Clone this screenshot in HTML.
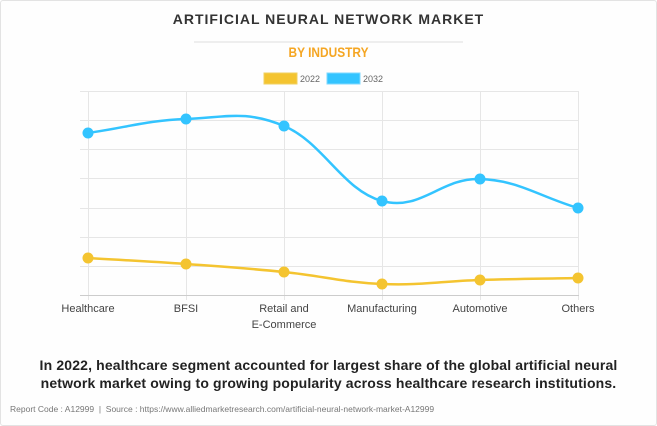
<!DOCTYPE html>
<html><head><meta charset="utf-8"><style>
html,body{margin:0;padding:0;background:#fff}
body{width:657px;height:426px;position:relative;overflow:hidden;font-family:"Liberation Sans",sans-serif}
.frame{position:absolute;left:0;top:0;width:655px;height:424px;border:1px solid #e3e3e3;border-radius:3px;background:#fefefe}
.t{position:absolute;left:0;width:657px;text-align:center}
</style></head><body>
<div class="frame"></div>
<div class="t" style="top:11px;font-size:14px;font-weight:bold;color:#333;letter-spacing:1px">ARTIFICIAL NEURAL NETWORK MARKET</div>
<div style="position:absolute;left:194px;top:41px;width:269px;height:2px;background:#eee"></div>
<div class="t" style="top:44px;font-size:14px;font-weight:bold;color:#f5a623;transform:scaleX(0.85)">BY INDUSTRY</div>
<svg width="657" height="426" style="position:absolute;left:0;top:0" font-family="Liberation Sans, sans-serif">
<rect x="264" y="73" width="33" height="11" fill="#f4c430" stroke="#f0d060"/>
<text x="300" y="82" font-size="9" fill="#666">2022</text>
<rect x="327" y="73" width="33" height="11" fill="#33c4ff" stroke="#7fd8ff"/>
<text x="363" y="82" font-size="9" fill="#666">2032</text>
<g stroke="#e6e6e6" stroke-width="1">
<line x1="80" x2="579" y1="91.5" y2="91.5"/><line x1="80" x2="579" y1="120.5" y2="120.5"/>
<line x1="80" x2="579" y1="149.5" y2="149.5"/><line x1="80" x2="579" y1="178.5" y2="178.5"/>
<line x1="80" x2="579" y1="208.5" y2="208.5"/><line x1="80" x2="579" y1="237.5" y2="237.5"/>
<line x1="80" x2="579" y1="266.5" y2="266.5"/>
<line x1="88.5" x2="88.5" y1="91" y2="300"/><line x1="186.5" x2="186.5" y1="91" y2="300"/>
<line x1="284.5" x2="284.5" y1="91" y2="300"/><line x1="382.5" x2="382.5" y1="91" y2="300"/>
<line x1="480.5" x2="480.5" y1="91" y2="300"/><line x1="578.5" x2="578.5" y1="91" y2="300"/>
</g>
<line x1="80" x2="579" y1="295.5" y2="295.5" stroke="#ccc"/>
<path id="b" fill="none" stroke="#33c4ff" stroke-width="2.5"/>
<path id="y" fill="none" stroke="#f4c430" stroke-width="2.5"/>
<g id="pts"></g>
<g font-size="11" fill="#444" text-anchor="middle">
<text x="88" y="312">Healthcare</text><text x="186" y="312">BFSI</text>
<text x="284" y="312">Retail and</text><text x="284" y="328">E-Commerce</text>
<text x="382" y="312">Manufacturing</text><text x="480" y="312">Automotive</text>
<text x="578" y="312">Others</text>
</g>
</svg>
<div class="t" style="top:356px;font-size:14px;font-weight:bold;color:#222;line-height:18px;letter-spacing:0.15px">In 2022, healthcare segment accounted for largest share of the global artificial neural<br>network market owing to growing popularity across healthcare research institutions.</div>
<div style="position:absolute;left:10px;top:404px;font-size:8.5px;color:#777">Report Code : A12999 &nbsp;|&nbsp; Source : https://www.alliedmarketresearch.com/artificial-neural-network-market-A12999</div>
<script>
var xs=[88,186,284,382,480,578];
var B=[133,119,126,201,179,208],Y=[258,264,272,284,280,278];
function path(v){var p=xs.map((x,i)=>[x,v[i]]);var d="M"+p[0];var t=0.4;
for(var i=0;i<p.length-1;i++){var p0=p[i-1]||p[i],p1=p[i],p2=p[i+1],p3=p[i+2]||p[i+1];
var c1=[p1[0]+(p2[0]-p0[0])*t/2,p1[1]+(p2[1]-p0[1])*t/2],c2=[p2[0]-(p3[0]-p1[0])*t/2,p2[1]-(p3[1]-p1[1])*t/2];
if(i==0)c1=[p1[0]+(p2[0]-p1[0])*t,p1[1]+(p2[1]-p1[1])*t];
if(i==p.length-2)c2=[p2[0]-(p2[0]-p1[0])*t,p2[1]-(p2[1]-p1[1])*t];
d+=" C"+c1+" "+c2+" "+p2;}return d;}
document.getElementById("b").setAttribute("d",path(B));
document.getElementById("y").setAttribute("d",path(Y));
var g=document.getElementById("pts"),h="";
xs.forEach((x,i)=>{h+='<circle cx="'+x+'" cy="'+B[i]+'" r="5.5" fill="#33c4ff"/><circle cx="'+x+'" cy="'+Y[i]+'" r="5.5" fill="#f4c430"/>';});
g.innerHTML=h;
</script>
</body></html>
